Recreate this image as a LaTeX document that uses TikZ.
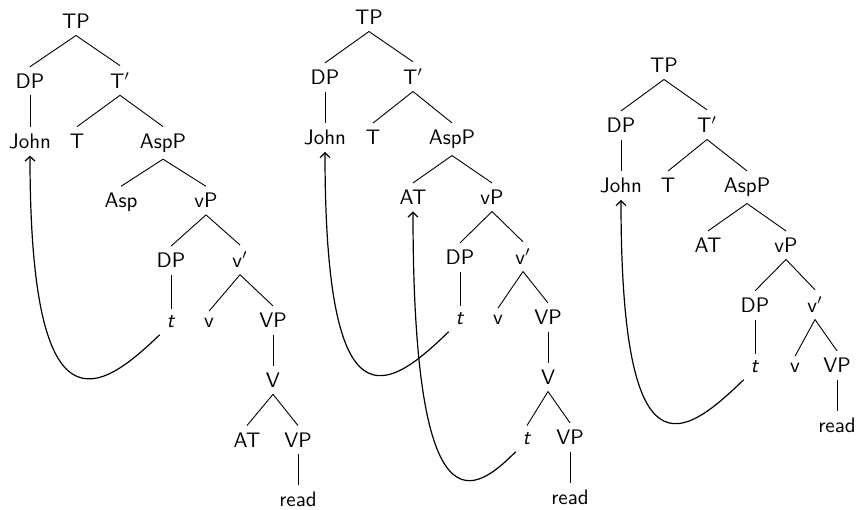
\documentclass[tikz,border=0pt]{standalone}
\usetikzlibrary{arrows.meta}
\begin{document}
\begin{tikzpicture}[x=0.5pt,y=-0.5pt,
  tn/.style={font=\fontsize{10.5}{12}\sffamily, inner sep=3.3pt, anchor=base},
  br/.style={line width=0.45pt},
  mv/.style={-{Straight Barb[length=2.4pt,width=5pt]}, line width=0.6pt}]
\useasboundingbox (0,0) rectangle (857,509);

% ---------- tree 1: John ... read, AT inside V ----------
\node[tn] (a0)  at (76,28.5)  {TP};
\node[tn] (a1)  at (30,88.3)  {DP};
\node[tn] (a2)  at (120,88.3) {T$'$};
\node[tn] (a3)  at (30,148.1) {John};
\node[tn] (a4)  at (77,148.1) {T};
\node[tn] (a5)  at (163,148.1) {AspP};
\node[tn] (a6)  at (121,207.9) {Asp};
\node[tn] (a7)  at (206,207.9) {vP};
\node[tn] (a8)  at (171,267.7) {DP};
\node[tn] (a9)  at (240,267.7) {v$'$};
\node[tn] (a10) at (171,327.5) {\textit{t}};
\node[tn] (a11) at (209,327.5) {v};
\node[tn] (a12) at (273,327.5) {VP};
\node[tn] (a13) at (273,387.3) {V};
\node[tn] (a14) at (247,447.1) {AT};
\node[tn] (a15) at (298,447.1) {VP};
\node[tn] (a16) at (298,506.9) {read};
\foreach \p/\c in {a0/a1,a0/a2,a1/a3,a2/a4,a2/a5,a5/a6,a5/a7,a7/a8,a7/a9,
                   a8/a10,a9/a11,a9/a12,a12/a13,a13/a14,a13/a15,a15/a16}
  \draw[br] (\p.south) -- (\c.north);
\draw[mv] (a10.south west) .. controls +(-60,58) and +(0,285) .. (a3.south);

% ---------- tree 2: AT raised from inside V ----------
\node[tn] (b0)  at (369,24.5)  {TP};
\node[tn] (b1)  at (325,84.5)  {DP};
\node[tn] (b2)  at (413,84.5)  {T$'$};
\node[tn] (b3)  at (325,144.5) {John};
\node[tn] (b4)  at (373,144.5) {T};
\node[tn] (b5)  at (452,144.5) {AspP};
\node[tn] (b6)  at (413,204.5) {AT};
\node[tn] (b7)  at (492,204.5) {vP};
\node[tn] (b8)  at (460,264.5) {DP};
\node[tn] (b9)  at (523,264.5) {v$'$};
\node[tn] (b10) at (460,324.5) {\textit{t}};
\node[tn] (b11) at (498,324.5) {v};
\node[tn] (b12) at (548,324.5) {VP};
\node[tn] (b13) at (548,384.5) {V};
\node[tn] (b14) at (527,444.5) {\textit{t}};
\node[tn] (b15) at (570,444.5) {VP};
\node[tn] (b16) at (570,504.5) {read};
\foreach \p/\c in {b0/b1,b0/b2,b1/b3,b2/b4,b2/b5,b5/b6,b5/b7,b7/b8,b7/b9,
                   b8/b10,b9/b11,b9/b12,b12/b13,b13/b14,b13/b15,b15/b16}
  \draw[br] (\p.south) -- (\c.north);
\draw[mv] (b10.south west) .. controls +(-60,58) and +(0,285) .. (b3.south);
\draw[mv] (b14.south west) .. controls +(-40,40) and +(0,330) .. (b6.south);

% ---------- tree 3: AT base-generated in Asp ----------
\node[tn] (c0)  at (664,72.5)  {TP};
\node[tn] (c1)  at (621,132.5) {DP};
\node[tn] (c2)  at (707,132.5) {T$'$};
\node[tn] (c3)  at (621,192.5) {John};
\node[tn] (c4)  at (668,192.5) {T};
\node[tn] (c5)  at (747,192.5) {AspP};
\node[tn] (c6)  at (708,252.5) {AT};
\node[tn] (c7)  at (786,252.5) {vP};
\node[tn] (c8)  at (755,312.5) {DP};
\node[tn] (c9)  at (815,312.5) {v$'$};
\node[tn] (c10) at (755,372.5) {\textit{t}};
\node[tn] (c11) at (795,372.5) {v};
\node[tn] (c12) at (837,372.5) {VP};
\node[tn] (c13) at (837,432.5) {read};
\foreach \p/\c in {c0/c1,c0/c2,c1/c3,c2/c4,c2/c5,c5/c6,c5/c7,c7/c8,c7/c9,
                   c8/c10,c9/c11,c9/c12,c12/c13}
  \draw[br] (\p.south) -- (\c.north);
\draw[mv] (c10.south west) .. controls +(-60,58) and +(0,285) .. (c3.south);
\end{tikzpicture}
\end{document}
